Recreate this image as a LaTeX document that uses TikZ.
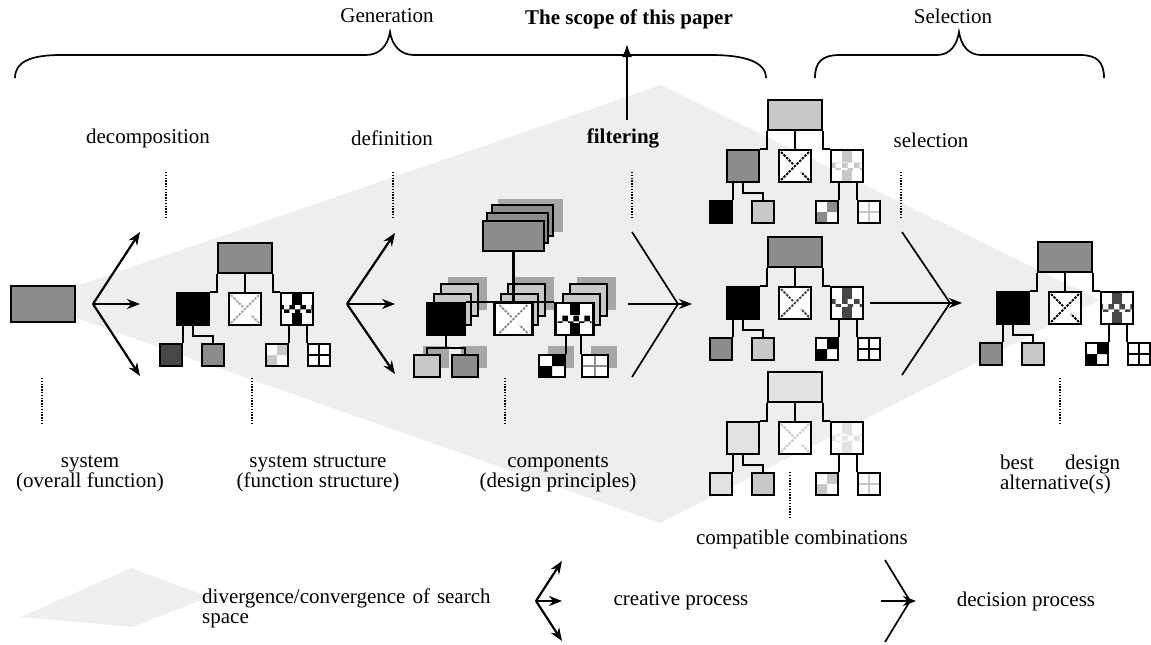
\documentclass[tikz,border=0pt]{standalone}
\usepackage{fontspec}
\setmainfont{Liberation Serif}
\usetikzlibrary{arrows.meta,patterns}

\definecolor{areagray}{HTML}{EEEEEE}
\definecolor{midgray}{HTML}{8C8C8C}
\definecolor{litegray}{HTML}{C8C8C8}
\definecolor{palegray}{HTML}{E2E2E2}
\definecolor{deepgray}{HTML}{474747}
\definecolor{shadegray}{HTML}{A6A6A6}

\tikzset{
  lbl/.style={font=\fontsize{21}{20}\selectfont, inner sep=0pt, align=center},
  lblb/.style={lbl, font=\fontsize{21}{20}\selectfont\bfseries},
  box/.style={draw, line width=2.4pt, inner sep=0pt},
  rootbox/.style={box, minimum width=54pt, minimum height=30pt},
  kidbox/.style={box, minimum width=32pt, minimum height=32pt},
  leafbox/.style={box, minimum width=22pt, minimum height=22pt},
  link/.style={line width=2.4pt},
  guide/.style={line width=1.8pt, dash pattern=on 1.4pt off 1.4pt},
  fan/.style={line width=2.2pt, -{Stealth[length=13pt,width=10pt]}},
  funnel/.style={line width=1.7pt},
  brace/.style={line width=1.7pt},
  diagbox/.style={fill=white, path picture={
    \begin{scope}[shift={(path picture bounding box.center)}]
    \draw[#1, line width=1.8pt, dash pattern=on 2.5pt off 1.2pt]
      (-14pt,-14pt) -- (14pt,14pt) (-14pt,14pt) -- (-2pt,2pt) (14pt,-14pt) -- (6pt,-6pt);
    \end{scope}}},
  chkbox/.style={fill=white, path picture={
    \begin{scope}[shift={(path picture bounding box.center)}]
    \fill[#1] (-5pt,-17pt) rectangle (5pt,17pt);
    \fill[white] (-17pt,-3.5pt) rectangle (17pt,4pt);
    \fill[pattern=checkerboard, pattern color=#1] (-17pt,-3.5pt) rectangle (17pt,4pt);
    \end{scope}}},
  quadbox/.style={fill=white, path picture={
    \begin{scope}[shift={(path picture bounding box.center)}]
    \fill[#1] (0pt,0pt) rectangle (12pt,12pt) (-12pt,-12pt) rectangle (0pt,0pt);
    \end{scope}}},
  crossbox/.style={fill=white, path picture={
    \begin{scope}[shift={(path picture bounding box.center)}]
    \draw[#1, line width=2.6pt] (-12pt,0pt) -- (12pt,0pt) (0pt,-12pt) -- (0pt,12pt);
    \end{scope}}}
}

% one function tree: name, centre x, top y
\newcommand\famtree[3]{%
  \node[rootbox, fill=rootc] (#1r) at ({#2},{#3+15}) {};
  \node[kidbox, fill=kidc] (#1a) at ({#2-52},{#3+66}) {};
  \node[kidbox, diagbox=diagc] (#1b) at ({#2},{#3+66}) {};
  \node[kidbox, chkbox=chkc] (#1c) at ({#2+52},{#3+66}) {};
  \node[leafbox, fill=leafac] (#1p) at ({#2-74},{#3+112}) {};
  \node[leafbox, fill=leafbc] (#1q) at ({#2-32},{#3+112}) {};
  \node[leafbox, quadbox=quadc] (#1s) at ({#2+32},{#3+112}) {};
  \node[leafbox, crossbox=crossc] (#1t) at ({#2+74},{#3+112}) {};
  \draw[link] (#1r.south west) |- (#1a.north east)
    (#1r.south) -- (#1b.north)
    (#1r.south east) |- (#1c.north west)
    (#1a.south -| #1p.north east) -- (#1p.north east)
    (#1a.south) -- ++(0,10) -| (#1q.north)
    (#1c.south -| #1s.north east) -- (#1s.north east)
    (#1c.south -| #1t.north west) -- (#1t.north west);
}

% cards behind a component, front top left corner given
\newcommand\cardstack[2]{%
  \fill[shadegray] ({#1+21},{#2-26}) rectangle ++(39,33);
  \draw[box, fill=litegray] ({#1+14},{#2-19}) rectangle ++(37,32);
  \draw[box, fill=litegray] ({#1+7},{#2-9}) rectangle ++(37,31);
}

\begin{document}
\begin{tikzpicture}[x=1pt, y=-1pt]
\useasboundingbox (0,0) rectangle (1151,645);

% search space
\fill[areagray] (30,302) -- (661,85) -- (1100,300) -- (660,523) -- cycle;

% braces
\draw[brace] (15,78) .. controls (15,62) and (30,55) .. (61,55) -- (366,55)
  .. controls (380,55) and (388,45) .. (390,32)
  .. controls (392,45) and (400,55) .. (414,55) -- (711,55)
  .. controls (745,55) and (766,62) .. (766,78);
\draw[brace] (815,78) .. controls (815,62) and (822,55) .. (840,55) -- (937,55)
  .. controls (950,55) and (957,45) .. (959,32)
  .. controls (961,45) and (968,55) .. (981,55) -- (1080,55)
  .. controls (1097,55) and (1104,62) .. (1104,78);
\node[lbl] (gen) at (387,16) {Generation};
\node[lblb] (scope) at (629,19) {The scope of this paper};
\node[lbl] (sel) at (953,16) {Selection};

% process labels
\node[lbl] (dcp) at (148,138) {decomposition};
\node[lbl] (dfn) at (392,138) {definition};
\node[lblb] (flt) at (623,138) {filtering};
\node[lbl] (slc) at (931,140) {selection};
\coordinate (sc) at (627,120);
\draw[-{Latex[length=13pt,width=10pt]}, line width=2.2pt] (sc) -- (sc |- 0,44);
\draw[guide] (166,172) -- (166,217);
\draw[guide] (393,172) -- (393,217);
\draw[guide] (632,172) -- (632,217);
\draw[guide] (901,172) -- (901,217);

% system
\node[box, fill=midgray, minimum width=64pt, minimum height=36pt] (sys) at (43,304) {};

% creative steps
\coordinate (dv1) at (93,304);
\draw[fan] (dv1) -- ++(47,-72);
\draw[fan] (dv1) -- ++(47,0);
\draw[fan] (dv1) -- ++(47,72);
\coordinate (dv2) at (347,304);
\draw[fan] (dv2) -- ++(48,-71);
\draw[fan] (dv2) -- ++(48,0);
\draw[fan] (dv2) -- ++(48,70);

% decision steps
\coordinate (cv1) at (678,304);
\draw[funnel] (632,232) -- (cv1) -- (632,377);
\draw[fan] (628,304) -- (692,304);
\coordinate (cv2) at (950,303);
\draw[funnel] (902,232) -- (cv2) -- (902,375);
\draw[fan] (870,303) -- (962,303);

% system structure
\colorlet{rootc}{midgray}\colorlet{kidc}{black}\colorlet{diagc}{shadegray}\colorlet{chkc}{black}
\colorlet{leafac}{deepgray}\colorlet{leafbc}{midgray}\colorlet{quadc}{litegray}\colorlet{crossc}{black}
\famtree{S}{245}{243}

% components
\fill[shadegray] (498,199) rectangle (563,232);
\draw[box, fill=midgray] (492,205) rectangle ++(61,31);
\draw[box, fill=midgray] (487,213) rectangle ++(61,30);
\node[box, fill=midgray, minimum width=61pt, minimum height=30pt] (Kr) at (513.5,236) {};
\cardstack{427}{303}
\cardstack{494}{303}
\cardstack{556}{303}
\draw[link] (Kr.south) -- (Kr.south |- 0,304);
\node[box, fill=black, minimum width=38pt, minimum height=32pt] (Ka) at (446,319) {};
\node[box, diagbox=midgray, minimum width=38pt, minimum height=32pt] (Kb) at (513.5,319) {};
\node[box, chkbox=black, minimum width=38pt, minimum height=32pt] (Kc) at (574.5,319) {};
\draw[link] (Ka.north east) -- (Kc.north west);
\foreach \lx in {427,465,552,595}
  \fill[shadegray] ({\lx-4},346) rectangle ++(26,22);
\node[box, fill=litegray, minimum width=26pt, minimum height=22pt] (Kp) at (427,366) {};
\node[box, fill=midgray, minimum width=26pt, minimum height=22pt] (Kq) at (465,366) {};
\node[box, quadbox=black, minimum width=26pt, minimum height=22pt] (Ks) at (552,366) {};
\node[box, crossbox=midgray, minimum width=26pt, minimum height=22pt] (Kt) at (595,366) {};
\draw[link] (Ka.south) -- ++(0,12) coordinate (Kj);
\draw[link] (Kp.north) |- (Kj) -| (Kq.north);
\draw[link] (Kc.south -| Ks.north east) -- (Ks.north east)
  (Kc.south -| Kt.north west) -- (Kt.north west);

% compatible combinations
\colorlet{rootc}{litegray}\colorlet{kidc}{midgray}\colorlet{diagc}{black}\colorlet{chkc}{litegray}
\colorlet{leafac}{black}\colorlet{leafbc}{litegray}\colorlet{quadc}{midgray}\colorlet{crossc}{litegray}
\famtree{A}{795}{100}
\colorlet{rootc}{midgray}\colorlet{kidc}{black}\colorlet{diagc}{deepgray}\colorlet{chkc}{deepgray}
\colorlet{leafac}{midgray}\colorlet{leafbc}{litegray}\colorlet{quadc}{black}\colorlet{crossc}{black}
\famtree{B}{795}{237}
\colorlet{rootc}{palegray}\colorlet{kidc}{palegray}\colorlet{diagc}{litegray}\colorlet{chkc}{palegray}
\colorlet{leafac}{palegray}\colorlet{leafbc}{litegray}\colorlet{quadc}{litegray}\colorlet{crossc}{litegray}
\famtree{C}{795}{372}

% best alternative
\colorlet{rootc}{midgray}\colorlet{kidc}{black}\colorlet{diagc}{black}\colorlet{chkc}{deepgray}
\colorlet{leafac}{midgray}\colorlet{leafbc}{litegray}\colorlet{quadc}{black}\colorlet{crossc}{black}
\famtree{D}{1065}{242}

% lower guides and labels
\draw[guide] (42,378) -- (42,423);
\draw[guide] (252,378) -- (252,423);
\draw[guide] (505,378) -- (505,423);
\draw[guide] (790,472) -- (790,518);
\draw[guide] (1060,378) -- (1060,423);
\node[lbl] (tsys) at (90,474) {system\\(overall function)};
\node[lbl] (tstr) at (318,474) {system structure\\(function structure)};
\node[lbl] (tcmp) at (558,474) {components\\(design principles)};
\node[lbl] (tcom) at (802,539) {compatible combinations};
\node[lbl, text width=120pt, align=justify] (tbest) at (1060,474) {best design \mbox{alternative(s)}};

% legend
\fill[areagray] (21,617) -- (131,568) -- (209,597) -- (132,627) -- cycle;
\node[lbl, text width=320pt, align=left, anchor=west] (tdiv) at (202,608) {divergence/convergence of search space};
\coordinate (lv1) at (536,601);
\draw[fan] (lv1) -- ++(26,-40);
\draw[fan] (lv1) -- ++(26,0);
\draw[fan] (lv1) -- ++(26,40);
\node[lbl] (tcre) at (681,601) {creative process};
\coordinate (lv2) at (910,601);
\draw[funnel] (885,560) -- (lv2) -- (885,642);
\draw[fan] (881,601) -- (916,601);
\node[lbl] (tdec) at (1026,601) {decision process};
\end{tikzpicture}
\end{document}
